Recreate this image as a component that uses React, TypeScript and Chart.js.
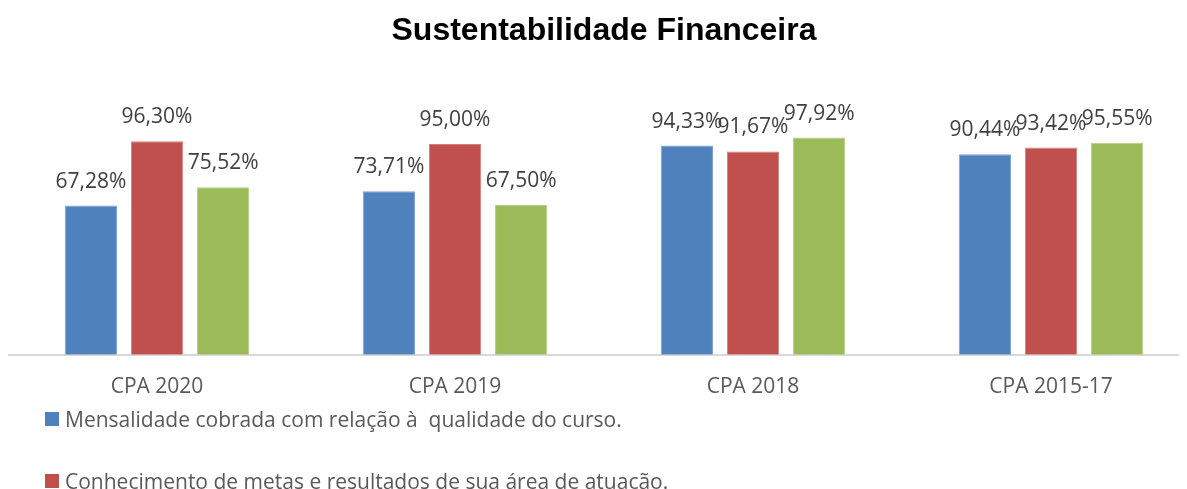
import React, { useEffect, useRef } from "react";
import { Chart, registerables } from "chart.js";

Chart.register(...registerables);

const categories = ["CPA 2020", "CPA 2019", "CPA 2018", "CPA 2015-17"];
const seriesNames = [
  "Mensalidade cobrada com relação à  qualidade do curso.",
  "Conhecimento de metas e resultados de sua área de atuação.",
  "Sustentabilidade financeira da instituição.",
];
const mensalidade = [67.28, 73.71, 94.33, 90.44];
const conhecimento = [96.3, 95.0, 91.67, 93.42];
const terceira = [75.52, 67.5, 97.92, 95.55];
const colors = ["#4F81BD", "#C0504D", "#9BBB59"];
const borders = ["#7FA1CF", "#D2807E", "#B6CE85"];
const title = "Sustentabilidade Financeira";

const FONT = "'Open Sans', 'DejaVu Sans', sans-serif";

const fmt = (v: number) => v.toFixed(2).replace(".", ",") + "%";

const labelPlugin = {
  id: "barLabels",
  afterDatasetsDraw(chart: any) {
    const ctx = chart.ctx;
    ctx.save();
    ctx.font = `21px ${FONT}`;
    ctx.fillStyle = "#404040";
    ctx.textAlign = "center";
    ctx.textBaseline = "alphabetic";
    chart.data.datasets.forEach((ds: any, i: number) => {
      const meta = chart.getDatasetMeta(i);
      meta.data.forEach((bar: any, j: number) => {
        ctx.fillText(fmt(ds.data[j]), bar.x, bar.y - 18);
      });
    });
    ctx.restore();
  },
};

export default function App() {
  const ref = useRef<HTMLCanvasElement>(null);
  useEffect(() => {
    const seriesData = [mensalidade, conhecimento, terceira];
    const chart = new Chart(ref.current!, {
      type: "bar",
      data: {
        labels: categories,
        datasets: seriesData.map((d, i) => ({
          label: seriesNames[i],
          data: d,
          backgroundColor: colors[i],
          borderColor: borders[i],
          borderWidth: 1,
          categoryPercentage: 0.666,
          barPercentage: 0.79,
        })),
      },
      options: {
        responsive: false,
        animation: false,
        layout: { padding: { left: 0, right: 0, top: 0, bottom: 0 } },
        plugins: {
          legend: { display: false },
          tooltip: { enabled: false },
          title: {
            display: true,
            text: title,
            color: "#000000",
            font: { family: "'Liberation Sans', Arial, sans-serif", size: 32, weight: "bold" },
            padding: { top: 4, bottom: 82.6 },
          },
        },
        scales: {
          x: {
            grid: { display: false, drawTicks: false },
            border: { display: true, color: "#D9D9D9", width: 2 },
            ticks: {
              color: "#595959",
              font: { family: FONT, size: 21 },
              padding: 20,
            },
          },
          y: {
            display: false,
            min: 0,
            max: 100,
          },
        },
      },
      plugins: [labelPlugin],
    });
    return () => chart.destroy();
  }, []);

  return (
    <div style={{ width: 1179, height: 481, overflow: "hidden", position: "relative" }}>
      <canvas ref={ref} width={1192} height={412} style={{ display: "block" }} />
      <div style={{ fontFamily: FONT, fontSize: 21, color: "#595959", paddingLeft: 37, paddingTop: 0 }}>
        {seriesNames.map((n, i) => (
          <div key={i} style={{ display: "flex", alignItems: "center", height: 61.5, marginTop: i === 0 ? -31.75 : 0, whiteSpace: "pre" }}>
            <span style={{ display: "inline-block", flex: "none", width: 14, height: 14, background: colors[i], marginRight: 6 }} />
            <span>{n}</span>
          </div>
        ))}
      </div>
    </div>
  );
}
